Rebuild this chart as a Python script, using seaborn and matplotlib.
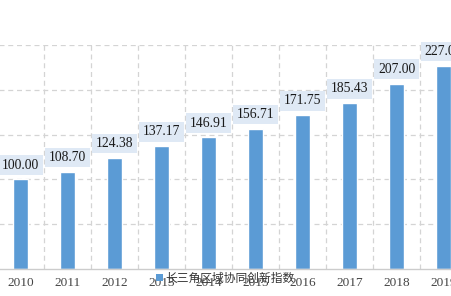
import matplotlib
matplotlib.use("Agg")
import matplotlib.pyplot as plt
import seaborn as sns
import pandas as pd
from matplotlib.patches import Patch

years = ["2010", "2011", "2012", "2013", "2014", "2015", "2016", "2017", "2018", "2019"]
values = [100.00, 108.70, 124.38, 137.17, 146.91, 156.71, 171.75, 185.43, 207.00, 227.00]
series_name = "长三角区域协同创新指数"

df = pd.DataFrame({"year": years, "value": values, "series": series_name})

sns.set_theme(style="white")
plt.rcParams['font.family'] = ['Noto Sans CJK SC', 'DejaVu Sans']

W, H = 451, 296
fig = plt.figure(figsize=(W / 100, H / 100), dpi=100)
left_px, right_px, top_px, bottom_px = -3, 467, 45, 269
ax = fig.add_axes([left_px / W, 1 - bottom_px / H, (right_px - left_px) / W, (bottom_px - top_px) / H])

bar_color = "#5b9bd5"
sns.barplot(data=df, x="year", y="value", color=bar_color, saturation=1, width=0.33, ax=ax, legend=False)

ax.set_ylim(0, 250)
ax.set_yticks([0, 50, 100, 150, 200, 250])
ax.set_xlim(-0.5, len(years) - 0.5)
ax.set_xticks(range(len(years)))
ax.set_xticklabels(years, family=['Liberation Serif'], fontsize=9.5, color="#444444")
ax.set_yticklabels([])
ax.tick_params(axis='x', length=0, pad=6)
ax.tick_params(axis='y', length=0)
ax.set_xlabel("")
ax.set_ylabel("")

# grid: dashed horizontal and vertical (category boundaries)
for yv in [50, 100, 150, 200, 250]:
    ax.axhline(yv, color="#d4d4d4", lw=0.9, ls=(0, (4, 3)), zorder=0)
for xv in [i + 0.5 for i in range(-1, len(years))]:
    ax.axvline(xv, color="#d4d4d4", lw=0.9, ls=(0, (4, 3)), zorder=0)

for s in ["top", "right", "left"]:
    ax.spines[s].set_visible(False)
ax.spines["bottom"].set_color("#cccccc")
ax.spines["bottom"].set_linewidth(1.0)

for i, v in enumerate(values):
    ax.annotate(f"{v:.2f}", (i, v), xytext=(0, 5.5), textcoords="offset points",
                ha="center", va="bottom", fontsize=9.8, family=['Liberation Serif'],
                color="#1a1a1a",
                bbox=dict(boxstyle="square,pad=0.25", fc="#dfe9f5", ec="none"))

handles = [Patch(facecolor=bar_color, edgecolor="none", label=series_name)]
fig.legend(handles=handles, loc="center", bbox_to_anchor=(0.5, 1 - 278 / H), frameon=False,
           fontsize=8.5, handlelength=0.6, handleheight=0.6, handletextpad=0.2,
           labelcolor="#333333", borderaxespad=0, borderpad=0)

fig.savefig("out.png", dpi=100)
